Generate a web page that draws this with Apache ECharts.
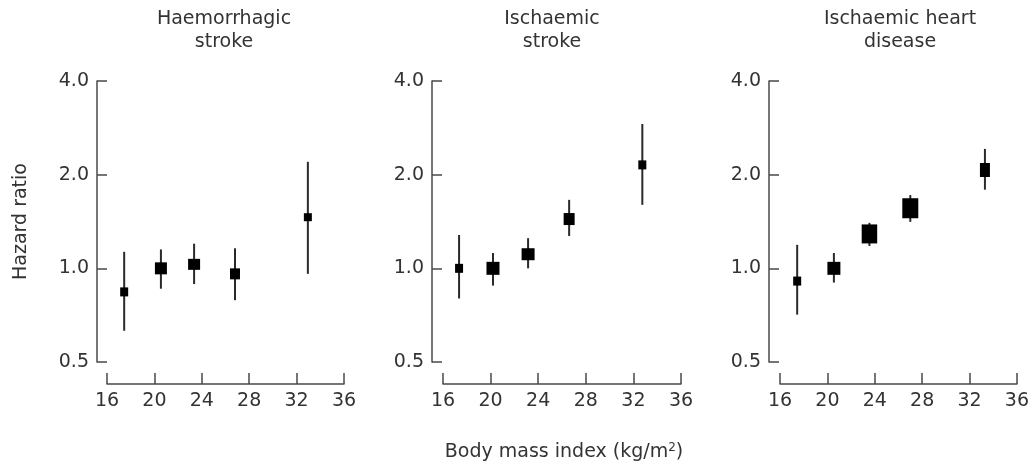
<!DOCTYPE html>
<html>
<head>
<meta charset="utf-8">
<title>BMI and hazard ratio</title>
<script src="https://cdn.jsdelivr.net/npm/echarts@6/dist/echarts.min.js"></script>
<style>
  html, body { margin: 0; padding: 0; background: #fff; }
  #main { width: 1032px; height: 468px; }
</style>
</head>
<body>
<div id="main"></div>
<script>
// panel titles
var panelTitles = ['Haemorrhagic\nstroke', 'Ischaemic\nstroke', 'Ischaemic heart\ndisease'];

// x axis ticks (BMI, kg/m2) and y axis ticks (hazard ratio, log scale)
var xTicks = [16, 20, 24, 28, 32, 36];
var yTicks = [0.5, 1.0, 2.0, 4.0];

// Haemorrhagic stroke
var bmi1 = [17.45, 20.55, 23.35, 26.8, 32.95];
var hr1 = [0.84, 1.0, 1.03, 0.96, 1.46];
var lo1 = [0.63, 0.86, 0.89, 0.79, 0.96];
var hi1 = [1.13, 1.15, 1.20, 1.16, 2.20];

// Ischaemic stroke
var bmi2 = [17.35, 20.2, 23.15, 26.6, 32.75];
var hr2 = [1.0, 1.0, 1.11, 1.44, 2.15];
var lo2 = [0.80, 0.88, 1.0, 1.27, 1.60];
var hi2 = [1.28, 1.12, 1.25, 1.66, 2.91];

// Ischaemic heart disease
var bmi3 = [17.45, 20.55, 23.55, 27.0, 33.3];
var hr3 = [0.91, 1.0, 1.29, 1.56, 2.07];
var lo3 = [0.71, 0.90, 1.18, 1.41, 1.79];
var hi3 = [1.19, 1.12, 1.40, 1.72, 2.42];

// box sizes (width / height, px) - show the amount of information per group
var boxW1 = [8, 12, 12, 10, 8];
var boxH1 = [9, 12, 11, 11, 8];
var boxW2 = [8, 13, 13, 11, 8];
var boxH2 = [9, 13, 12, 12, 9];
var boxW3 = [8, 13, 15.5, 16, 10];
var boxH3 = [9, 13, 19, 20, 14];

var panels = [
    {bmi: bmi1, hr: hr1, lo: lo1, hi: hi1, w: boxW1, h: boxH1},
    {bmi: bmi2, hr: hr2, lo: lo2, hi: hi2, w: boxW2, h: boxH2},
    {bmi: bmi3, hr: hr3, lo: lo3, hi: hi3, w: boxW3, h: boxH3}
];

// layout of the three plots
var gridLeft = [107, 443, 780];
var gridWidth = [237, 238, 238];
var yOffset = [10, 11, 11];
var titleX = [224, 552, 900];

var textColor = '#333';
var lineColor = '#4a4a4a';
var font = 'DejaVu Sans';

var myChart = echarts.init(document.getElementById('main'));

function renderItem(params, api) {
    var c = api.coord([api.value(0), api.value(1)]);
    var lo = api.coord([api.value(0), api.value(2)]);
    var hi = api.coord([api.value(0), api.value(3)]);
    var w = api.value(4), h = api.value(5);
    return {
        type: 'group',
        children: [
            {type: 'line', shape: {x1: c[0], y1: hi[1], x2: c[0], y2: lo[1]},
             style: {stroke: '#2a2a2a', lineWidth: 2}},
            {type: 'rect', shape: {x: c[0] - w / 2, y: c[1] - h / 2, width: w, height: h},
             style: {fill: '#000'}}
        ]
    };
}

var grids = [], xAxes = [], yAxes = [], series = [], titles = [];
panels.forEach(function (p, i) {
    grids.push({left: gridLeft[i], top: 81, width: gridWidth[i], height: 281});
    xAxes.push({
        type: 'value', gridIndex: i,
        min: xTicks[0], max: xTicks[xTicks.length - 1], interval: 4,
        offset: 22,
        axisLine: {lineStyle: {color: lineColor, width: 1.5}},
        axisTick: {inside: true, length: 11, lineStyle: {color: lineColor, width: 1.5}},
        axisLabel: {color: textColor, fontSize: 19, fontFamily: font, margin: 8},
        splitLine: {show: false}
    });
    yAxes.push({
        type: 'log', logBase: 2, gridIndex: i,
        min: yTicks[0], max: yTicks[yTicks.length - 1], interval: 1,
        offset: yOffset[i],
        name: i === 0 ? 'Hazard ratio' : '',
        nameLocation: 'middle', nameRotate: 90, nameGap: 66,
        nameTextStyle: {color: textColor, fontSize: 19, fontFamily: font},
        axisLine: {show: true, lineStyle: {color: lineColor, width: 1.5}},
        axisTick: {show: true, inside: true, length: 10, lineStyle: {color: lineColor, width: 1.5}},
        minorTick: {show: false},
        axisLabel: {color: textColor, fontSize: 19, fontFamily: font, margin: 8,
            formatter: function (v) { return v.toFixed(1); }},
        splitLine: {show: false}
    });
    var data = p.bmi.map(function (b, k) {
        return [b, p.hr[k], p.lo[k], p.hi[k], p.w[k], p.h[k]];
    });
    series.push({
        type: 'custom', xAxisIndex: i, yAxisIndex: i,
        renderItem: renderItem,
        encode: {x: 0, y: [1, 2, 3]},
        data: data,
        silent: true
    });
    titles.push({
        text: panelTitles[i], left: titleX[i], top: 8, padding: 0,
        textAlign: 'center',
        textStyle: {color: textColor, fontSize: 19, fontWeight: 'normal', fontFamily: font, lineHeight: 23}
    });
});

titles.push({
    text: 'Body mass index (kg/m{sup|2})', left: 564, top: 441, padding: 0,
    textAlign: 'center',
    textStyle: {color: textColor, fontSize: 19, fontWeight: 'normal', fontFamily: font, lineHeight: 23,
        rich: {sup: {fontSize: 12, fontFamily: font, color: textColor, padding: [0, 0, 9, 0]}}}
});

var option = {
    animation: false,
    title: titles,
    grid: grids,
    xAxis: xAxes,
    yAxis: yAxes,
    series: series
};
myChart.setOption(option);
</script>
</body>
</html>
